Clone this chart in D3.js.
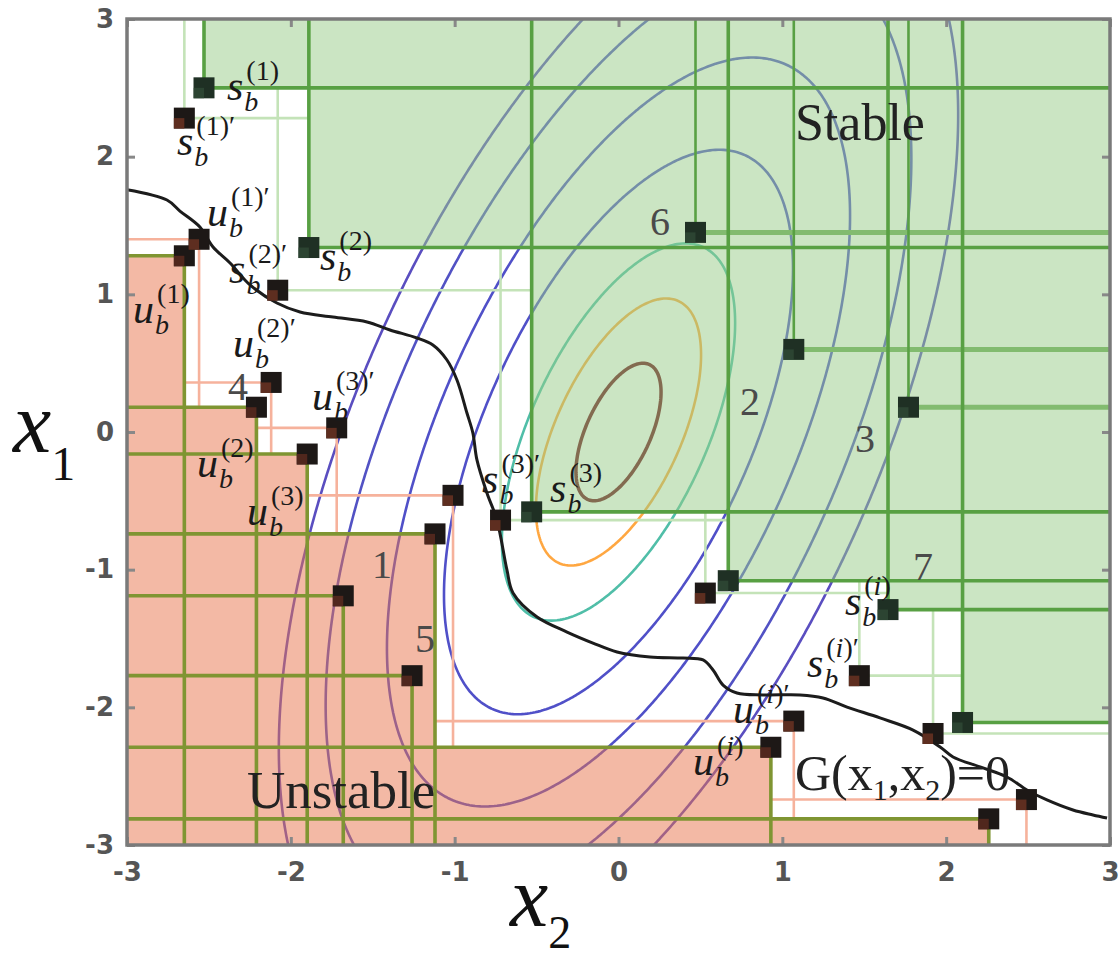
<!DOCTYPE html>
<html>
<head>
<meta charset="utf-8">
<script src="https://cdn.jsdelivr.net/npm/d3@7"></script>
<style>
    body { margin: 0; background: #fff; }
    .mbase { font-family: "Liberation Serif", serif; font-style: italic; font-size: 42px; fill: #1a1a1a; }
    .msub { font-family: "Liberation Serif", serif; font-style: italic; font-size: 28px; fill: #1a1a1a; }
    .msup { font-family: "Liberation Serif", serif; font-size: 28px; fill: #1a1a1a; }
    .num { font-family: "Liberation Serif", serif; font-size: 40px; fill: #4a4a4a; }
    .tick text { font-family: "DejaVu Sans", sans-serif; font-weight: bold; font-size: 26px; fill: #555; }
    .tick line { stroke: #888; stroke-width: 3; }
</style>
</head>
<body>
<svg id="chart" width="1119" height="960"></svg>
<script>
// 数据 (x2, x1)
const tickValues = [-3, -2, -1, 0, 1, 2, 3];

// stable boundary points s_b, and inner numbered ones (6, 2, 3)
const stableBoundary = [[-2.53, 2.50], [-1.89, 1.34], [-0.53, -0.58], [0.67, -1.08], [1.645, -1.29], [2.10, -2.11]];
const stableInner = [[0.47, 1.45], [1.07, 0.60], [1.77, 0.18]];
const stablePrimed = [[-2.65, 2.28], [-2.08, 1.03], [-0.72, -0.64], [0.53, -1.17], [1.47, -1.77], [1.92, -2.19]];

// unstable boundary points u_b, and inner numbered ones (1, 5)
const unstableBoundary = [[-2.65, 1.28], [-2.21, 0.18], [-1.90, -0.16], [-1.12, -0.74], [0.93, -2.29], [2.26, -2.81]];
const unstableInner = [[-1.68, -1.19], [-1.26, -1.77]];
const unstablePrimed = [[-2.56, 1.40], [-2.12, 0.36], [-1.72, 0.03], [-1.01, -0.46], [1.07, -2.10], [2.49, -2.67]];

// G(x1,x2)=0 curve
const boundaryG = [
    [-3.0, 1.76], [-2.756, 1.685], [-2.677, 1.605], [-2.555, 1.489], [-2.475, 1.344], [-2.371, 1.228],
    [-2.249, 1.068], [-2.085, 0.937], [-1.944, 0.872], [-1.743, 0.835], [-1.535, 0.799], [-1.395, 0.741],
    [-1.230, 0.683], [-1.133, 0.632], [-1.047, 0.523], [-0.986, 0.378], [-0.925, 0.138], [-0.889, -0.007],
    [-0.864, -0.203], [-0.803, -0.443], [-0.742, -0.639], [-0.681, -1.002], [-0.644, -1.169], [-0.497, -1.344],
    [-0.314, -1.453], [-0.156, -1.533], [-0.009, -1.598], [0.192, -1.634], [0.394, -1.642], [0.516, -1.656],
    [0.577, -1.729], [0.638, -1.838], [0.723, -1.896], [0.882, -1.910], [1.108, -1.910], [1.248, -1.932],
    [1.395, -1.998], [1.596, -2.077], [1.798, -2.165], [1.963, -2.288], [2.042, -2.361], [2.207, -2.433],
    [2.371, -2.506], [2.493, -2.600], [2.615, -2.673], [2.774, -2.746], [2.896, -2.782], [2.982, -2.804]
];

// level curves (half height of each ellipse along x1)
const contourRadii = [0.5, 0.97, 1.37, 2.05, 2.72, 3.44, 3.99];
const contourColors = ['#6e0a19', '#ffa741', '#50bea8', '#5050c8', '#5050c8', '#5252c4', '#5a4ec0'];
// quadratic form  a*x2^2 - 2h*x2*x1 + b*x1^2
const qa = 1, qh = 0.3, qb = 0.27, qdet = qa * qb - qh * qh;

// 标签
const mathLabels = [
    {base: 's', idx: '1', prime: false, at: [-2.39, 2.412]},
    {base: 's', idx: '1', prime: true, at: [-2.695, 2.012]},
    {base: 'u', idx: '1', prime: true, at: [-2.512, 1.50]},
    {base: 's', idx: '2', prime: true, at: [-2.377, 1.085]},
    {base: 's', idx: '2', prime: false, at: [-1.822, 1.177]},
    {base: 'u', idx: '1', prime: false, at: [-2.963, 0.792]},
    {base: 'u', idx: '2', prime: true, at: [-2.353, 0.545]},
    {base: 'u', idx: '3', prime: true, at: [-1.871, 0.160]},
    {base: 'u', idx: '2', prime: false, at: [-2.573, -0.327]},
    {base: 'u', idx: '3', prime: false, at: [-2.268, -0.676]},
    {base: 's', idx: '3', prime: true, at: [-0.833, -0.443]},
    {base: 's', idx: '3', prime: false, at: [-0.418, -0.508]},
    {base: 'u', idx: 'i', prime: true, at: [0.699, -2.114]},
    {base: 'u', idx: 'i', prime: false, at: [0.455, -2.491]},
    {base: 's', idx: 'i', prime: true, at: [1.150, -1.780]},
    {base: 's', idx: 'i', prime: false, at: [1.382, -1.329]}
];
const numberLabels = [
    {t: '6', at: [0.192, 1.431]}, {t: '2', at: [0.742, 0.123]}, {t: '3', at: [1.444, -0.145]},
    {t: '4', at: [-2.384, 0.235]}, {t: '1', at: [-1.505, -1.061]}, {t: '5', at: [-1.242, -1.598]},
    {t: '7', at: [1.798, -1.075]}
];

function draw_chart() {
    let svg = d3.select('#chart');
    // 比例尺
    let xs = d3.scaleLinear().domain([-3, 3]).range([127, 1110]),
        ys = d3.scaleLinear().domain([-3, 3]).range([845, 19]);
    let line = d3.line().x(d => xs(d[0])).y(d => ys(d[1]));

    svg.append('defs').append('clipPath').attr('id', 'plot-clip')
        .append('rect')
        .attr('x', xs(-3)).attr('y', ys(3))
        .attr('width', xs(3) - xs(-3)).attr('height', ys(-3) - ys(3));

    // 等高线
    let n = 420, g0 = -3.5, step = 7 / n;
    let field = new Array(n * n);
    for (let j = 0; j < n; j++) {
        for (let i = 0; i < n; i++) {
            let u = g0 + (i + 0.5) * step, v = g0 + (j + 0.5) * step;
            field[i + j * n] = -(qa * u * u - 2 * qh * u * v + qb * v * v);
        }
    }
    let thresholds = contourRadii.map(r => -r * r * qdet);
    let contours = d3.contours().size([n, n]).thresholds(thresholds)(field);
    let proj = d3.geoTransform({
        point: function (px, py) {
            this.stream.point(xs(g0 + px * step), ys(g0 + py * step));
        }
    });
    let path = d3.geoPath(proj);
    svg.append('g').attr('clip-path', 'url(#plot-clip)')
        .selectAll('path')
        .data(contours)
        .enter()
        .append('path')
        .attr('d', path)
        .attr('fill', 'none')
        .attr('stroke', function (d) {
            let k = d3.minIndex(thresholds, t => Math.abs(t - d.value));
            return contourColors[k];
        })
        .attr('stroke-width', (d) => d3.minIndex(thresholds, t => Math.abs(t - d.value)) === 0 ? 3.5 : 2.6);

    // 稳定 区域 (staircase of orthants)
    let sSorted = stableBoundary.slice().sort((a, b) => a[0] - b[0]);
    let greenPoly = [[sSorted[0][0], 3], [sSorted[0][0], sSorted[0][1]]];
    for (let i = 1; i < sSorted.length; i++) {
        greenPoly.push([sSorted[i][0], sSorted[i - 1][1]]);
        greenPoly.push([sSorted[i][0], sSorted[i][1]]);
    }
    greenPoly.push([3, sSorted[sSorted.length - 1][1]], [3, 3]);
    svg.append('path').attr('d', line(greenPoly) + 'Z')
        .attr('fill', '#97cb87').attr('fill-opacity', 0.5);

    // 不稳定 区域
    let uSorted = unstableBoundary.slice().sort((a, b) => a[0] - b[0]);
    let redPoly = [[-3, -3], [-3, uSorted[0][1]], [uSorted[0][0], uSorted[0][1]]];
    for (let i = 1; i < uSorted.length; i++) {
        redPoly.push([uSorted[i - 1][0], uSorted[i][1]]);
        redPoly.push([uSorted[i][0], uSorted[i][1]]);
    }
    redPoly.push([uSorted[uSorted.length - 1][0], -3]);
    svg.append('path').attr('d', line(redPoly) + 'Z')
        .attr('fill', '#e7734b').attr('fill-opacity', 0.5);

    let gLines = svg.append('g');
    function seg(a, b, color, w) {
        gLines.append('line')
            .attr('x1', xs(a[0])).attr('y1', ys(a[1]))
            .attr('x2', xs(b[0])).attr('y2', ys(b[1]))
            .attr('stroke', color).attr('stroke-width', w);
    }

    // primed points: lines stop where they meet the region
    stablePrimed.forEach(function (p) {
        let up = stableBoundary.filter(s => s[0] <= p[0]).map(s => s[1]);
        let right = stableBoundary.filter(s => s[1] <= p[1]).map(s => s[0]);
        seg(p, [p[0], up.length ? d3.min(up) : 3], '#c4e3b8', 2.6);
        seg(p, [right.length ? d3.min(right) : 3, p[1]], '#c4e3b8', 2.6);
    });
    unstablePrimed.forEach(function (p) {
        let down = unstableBoundary.filter(s => s[0] >= p[0]).map(s => s[1]);
        let left = unstableBoundary.filter(s => s[1] >= p[1]).map(s => s[0]);
        seg(p, [p[0], down.length ? d3.max(down) : -3], '#f6b29c', 2.6);
        seg(p, [left.length ? d3.max(left) : -3, p[1]], '#f6b29c', 2.6);
    });

    // 网格 线条
    stableInner.forEach(function (p) {
        seg(p, [3, p[1]], '#82bb6f', 5);
        seg(p, [p[0], 3], '#58a043', 2.6);
    });
    stableBoundary.forEach(function (p) {
        seg(p, [p[0], 3], '#58a043', 3.6);
        seg(p, [3, p[1]], '#58a043', 3.6);
    });
    unstableBoundary.concat(unstableInner).forEach(function (p) {
        seg(p, [p[0], -3], '#7f9532', 3.6);
        seg(p, [-3, p[1]], '#7f9532', 3.6);
    });

    // G 曲线
    svg.append('path')
        .attr('d', d3.line().x(d => xs(d[0])).y(d => ys(d[1])).curve(d3.curveCatmullRom)(boundaryG))
        .attr('fill', 'none').attr('stroke', '#1c1c1c').attr('stroke-width', 3);

    // 方块
    let sq = 21;
    function marker(list, base, inner, innerOpacity) {
        let g = svg.append('g');
        g.selectAll('rect.base').data(list).enter().append('rect')
            .attr('x', d => xs(d[0]) - sq / 2).attr('y', d => ys(d[1]) - sq / 2)
            .attr('width', sq).attr('height', sq).attr('fill', base);
        g.selectAll('rect.inner').data(list).enter().append('rect')
            .attr('x', d => xs(d[0]) - sq / 2).attr('y', d => ys(d[1]))
            .attr('width', sq / 2).attr('height', sq / 2)
            .attr('fill', inner).attr('opacity', innerOpacity);
    }
    marker(stableBoundary.concat(stableInner), '#1f3024', '#36523c', 0.6);
    marker(unstableBoundary.concat(unstableInner), '#1d1816', '#5e2c1f', 0.8);
    marker(stablePrimed.concat(unstablePrimed), '#1d1816', '#6a3322', 0.85);

    // 坐标轴
    let fmt = d => String(d);
    svg.append('g').attr('class', 'axis').attr('transform', 'translate(0,' + ys(-3) + ')')
        .call(d3.axisBottom(xs).tickValues(tickValues).tickSize(-8).tickPadding(18).tickFormat(fmt));
    svg.append('g').attr('class', 'axis').attr('transform', 'translate(' + xs(-3) + ',0)')
        .call(d3.axisLeft(ys).tickValues(tickValues).tickSize(-8).tickPadding(13).tickFormat(fmt));
    svg.append('g').attr('transform', 'translate(0,' + ys(3) + ')')
        .call(d3.axisTop(xs).tickValues(tickValues).tickSize(-8).tickFormat(''));
    svg.append('g').attr('transform', 'translate(' + xs(3) + ',0)')
        .call(d3.axisRight(ys).tickValues(tickValues).tickSize(-8).tickFormat(''));
    svg.selectAll('.domain').remove();
    svg.selectAll('.tick line').attr('stroke', '#888').attr('stroke-width', 3);

    svg.append('rect')
        .attr('x', xs(-3)).attr('y', ys(3))
        .attr('width', xs(3) - xs(-3)).attr('height', ys(-3) - ys(3))
        .attr('fill', 'none').attr('stroke', '#7a7a7a').attr('stroke-width', 3.5);

    // 文字
    let gText = svg.append('g');
    mathLabels.forEach(function (d) {
        let px = xs(d.at[0]), py = ys(d.at[1]);
        let base = gText.append('text').attr('class', 'mbase').attr('x', px).attr('y', py).text(d.base);
        let w = base.node().getComputedTextLength();
        gText.append('text').attr('class', 'msub').attr('x', px + w + 1).attr('y', py + 11).text('b');
        let sup = gText.append('text').attr('class', 'msup').attr('x', px + w + 3).attr('y', py - 20);
        sup.append('tspan').text('(');
        sup.append('tspan').style('font-style', d.idx === 'i' ? 'italic' : 'normal').text(d.idx);
        sup.append('tspan').text(')' + (d.prime ? '\u2032' : ''));
    });
    gText.selectAll('text.num').data(numberLabels).enter().append('text')
        .attr('class', 'num')
        .attr('x', d => xs(d.at[0])).attr('y', d => ys(d.at[1]))
        .text(d => d.t);

    gText.append('text').attr('x', xs(1.077)).attr('y', ys(2.121))
        .style('font-family', '"Liberation Serif", serif').style('font-size', '52px').style('fill', '#222')
        .text('Stable');
    gText.append('text').attr('x', xs(-2.268)).attr('y', ys(-2.731))
        .style('font-family', '"Liberation Serif", serif').style('font-size', '53px').style('fill', '#222')
        .text('Unstable');

    let gl = gText.append('text').attr('x', xs(1.077)).attr('y', ys(-2.6))
        .style('font-family', '"Liberation Serif", serif').style('font-size', '50px').style('fill', '#222');
    gl.append('tspan').text('G(x');
    gl.append('tspan').attr('dy', 10).style('font-size', '30px').text('1');
    gl.append('tspan').attr('dy', -10).text(',x');
    gl.append('tspan').attr('dy', 10).style('font-size', '30px').text('2');
    gl.append('tspan').attr('dy', -10).text(')=0');

    // 轴 标题
    let t1 = svg.append('text').attr('x', 13).attr('y', 452)
        .style('font-family', '"Liberation Serif", serif').style('fill', '#111');
    t1.append('tspan').style('font-style', 'italic').style('font-size', '86px').text('x');
    t1.append('tspan').attr('dy', 28).style('font-size', '48px').text('1');
    let t2 = svg.append('text').attr('x', 510).attr('y', 926)
        .style('font-family', '"Liberation Serif", serif').style('fill', '#111');
    t2.append('tspan').style('font-style', 'italic').style('font-size', '86px').text('x');
    t2.append('tspan').attr('dy', 22).style('font-size', '46px').text('2');
}

draw_chart();
</script>
</body>
</html>
